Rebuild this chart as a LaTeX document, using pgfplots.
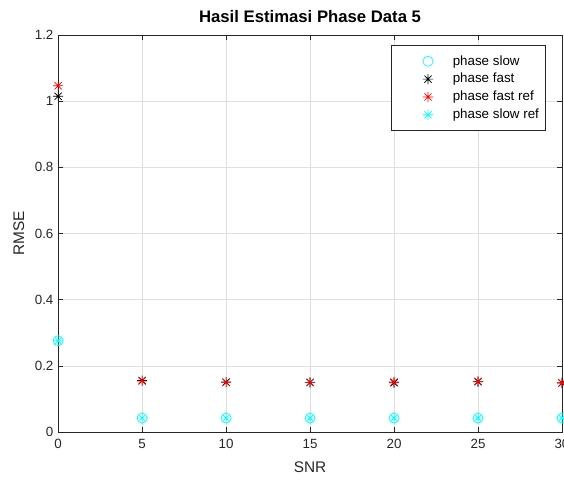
\documentclass[border=0pt]{standalone}
\usepackage{pgfplots}
\pgfplotsset{compat=1.18}
\usepackage{fontspec}
\setmainfont{Liberation Sans}
\pgfdeclareplotmark{mstar}{%
 \pgfpathmoveto{\pgfqpoint{-\pgfplotmarksize}{0pt}}\pgfpathlineto{\pgfqpoint{\pgfplotmarksize}{0pt}}%
 \pgfpathmoveto{\pgfqpoint{0pt}{-\pgfplotmarksize}}\pgfpathlineto{\pgfqpoint{0pt}{\pgfplotmarksize}}%
 \pgfpathmoveto{\pgfqpoint{-0.707\pgfplotmarksize}{-0.707\pgfplotmarksize}}\pgfpathlineto{\pgfqpoint{0.707\pgfplotmarksize}{0.707\pgfplotmarksize}}%
 \pgfpathmoveto{\pgfqpoint{-0.707\pgfplotmarksize}{0.707\pgfplotmarksize}}\pgfpathlineto{\pgfqpoint{0.707\pgfplotmarksize}{-0.707\pgfplotmarksize}}%
 \pgfusepathqstroke}
\definecolor{axgray}{gray}{0.15}
\definecolor{mcyan}{rgb}{0,1,1}
\begin{document}
\begin{tikzpicture}
\begin{axis}[
  scale only axis,
  width=377pt, height=297pt,
  xmin=0, xmax=30, ymin=0, ymax=1.2,
  xtick={0,5,...,30},
  ytick={0,0.2,0.4,0.6,0.8,1,1.2},
  yticklabels={0,0.2,0.4,0.6,0.8,1,1.2},
  /pgf/number format/assume math mode=true,
  tick align=inside,
  major tick length=4pt,
  axis line style={axgray, line width=0.5pt},
  every tick/.style={axgray, line width=0.5pt},
  tick label style={font=\fontsize{10}{12}\selectfont, text=axgray},
  xticklabel style={yshift=-2pt},
  grid=major,
  grid style={gray!25, line width=0.5pt},
  title={\textbf{Hasil Estimasi Phase Data 5}},
  title style={font=\fontsize{12.5}{14}\selectfont, yshift=0pt},
  xlabel={SNR}, ylabel={RMSE},
  label style={font=\fontsize{11.5}{13}\selectfont, text=axgray},
  xlabel style={yshift=-3pt},
  ylabel style={yshift=1pt},
  clip=false,
  legend style={at={(1,1)}, anchor=north east, xshift=-12pt, yshift=-7.5pt,
    draw=axgray, line width=0.5pt, font=\fontsize{10}{12}\selectfont,
    cells={anchor=west}, inner xsep=3pt, inner ysep=5.5pt,
    row sep=0.6pt},
  legend image code/.code={\path[draw=none,fill=none] (-0.45cm,0) -- (1.0cm,0); \draw[#1] plot coordinates {(0.42cm,0cm)};},
]
\addplot[only marks, mark=o, mark size=3.8pt, color=mcyan, line width=0.5pt] coordinates {
(0,0.276) (5,0.042) (10,0.042) (15,0.042) (20,0.042) (25,0.042) (30,0.042)};
\addlegendentry{phase slow}
\addplot[only marks, mark=mstar, mark size=3.8pt, color=black, line width=0.5pt] coordinates {
(0,1.015) (5,0.156) (10,0.151) (15,0.150) (20,0.149) (25,0.152) (30,0.148)};
\addlegendentry{phase fast}
\addplot[only marks, mark=mstar, mark size=3.8pt, color=red, line width=0.5pt] coordinates {
(0,1.047) (5,0.154) (10,0.150) (15,0.150) (20,0.151) (25,0.153) (30,0.149)};
\addlegendentry{phase fast ref}
\addplot[only marks, mark=mstar, mark size=3.8pt, color=mcyan, line width=0.5pt] coordinates {
(0,0.276) (5,0.042) (10,0.042) (15,0.042) (20,0.042) (25,0.042) (30,0.042)};
\addlegendentry{phase slow ref}
\end{axis}
\pgfresetboundingbox
\path (current axis.south west) ++(-43.5pt,-35.25pt) coordinate (bl);
\path (current axis.north east) ++(1.5pt,26.25pt) coordinate (tr);
\useasboundingbox (bl) rectangle (tr);
\end{tikzpicture}
\end{document}
